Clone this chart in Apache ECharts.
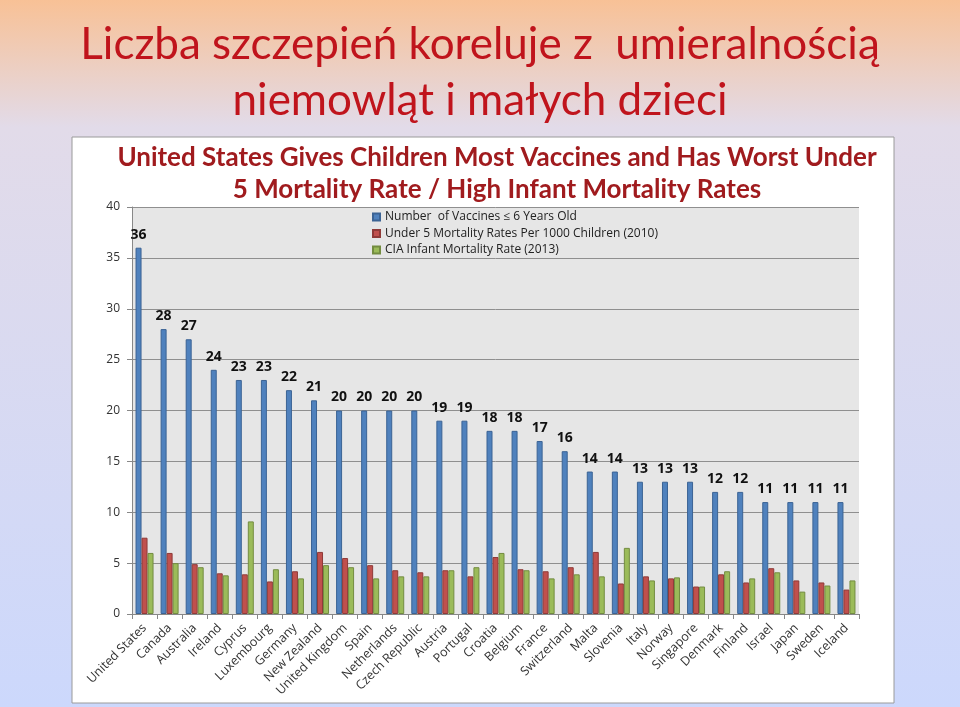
<!DOCTYPE html>
<html>
<head>
<meta charset="utf-8">
<script src="https://cdn.jsdelivr.net/npm/echarts@6/dist/echarts.min.js"></script>
<style>
html,body{margin:0;padding:0;}
#c{width:960px;height:707px;}
</style>
</head>
<body>
<div id="c"></div>
<script>
var categories = ["United States","Canada","Australia","Ireland","Cyprus","Luxembourg","Germany","New Zealand","United Kingdom","Spain","Netherlands","Czech Republic","Austria","Portugal","Croatia","Belgium","France","Switzerland","Malta","Slovenia","Italy","Norway","Singapore","Denmark","Finland","Israel","Japan","Sweden","Iceland"];
var vaccines = [36,28,27,24,23,23,22,21,20,20,20,20,19,19,18,18,17,16,14,14,13,13,13,12,12,11,11,11,11];
var under5 = [7.5,6.0,4.9,4.0,3.9,3.2,4.2,6.1,5.5,4.8,4.3,4.1,4.3,3.7,5.6,4.4,4.2,4.6,6.1,3.0,3.7,3.5,2.7,3.9,3.1,4.5,3.3,3.1,2.4];
var infant = [6.0,5.0,4.6,3.8,9.1,4.4,3.5,4.8,4.6,3.5,3.7,3.7,4.3,4.6,6.0,4.3,3.5,3.9,3.7,6.5,3.3,3.6,2.7,4.2,3.5,4.1,2.2,2.8,3.3];
var seriesNames = ["Number  of Vaccines \u2264 6 Years Old","Under 5 Mortality Rates Per 1000 Children (2010)","CIA Infant Mortality Rate (2013)"];
var yTicks = [0,5,10,15,20,25,30,35,40];
var pageTitle = ["Liczba szczepie\u0144 koreluje z  umieralno\u015bci\u0105","niemowl\u0105t i ma\u0142ych dzieci"];
var chartTitle = ["United States Gives Children Most Vaccines and Has Worst Under","5 Mortality Rate / High Infant Mortality Rates"];

var chart = echarts.init(document.getElementById('c'));
var fills = ['#4f81bd','#c0504d','#9bbb59'];
var borders = ['#3b6394','#8f3a38','#738c40'];
function mk(i, data) {
  var s = {
    name: seriesNames[i], type: 'bar', data: data,
    barWidth: 6, barGap: '0%',
    itemStyle: {color: fills[i], borderColor: borders[i], borderWidth: 1},
    emphasis: {disabled: true}
  };
  if (i === 0) {
    s.label = {show: true, position: 'top', distance: 6, fontFamily: 'Open Sans', fontWeight: 'bold', fontSize: 14, color: '#111'};
  }
  return s;
}
chart.setOption({
  animation: false,
  backgroundColor: {type: 'linear', x: 0, y: 0, x2: 0, y2: 1, colorStops: [
    {offset: 0, color: '#f8c196'}, {offset: 0.18, color: '#e2dbe9'}, {offset: 1, color: '#ccd8fc'}]},
  graphic: [{type: 'rect', shape: {x: 72, y: 137, width: 822, height: 566}, style: {fill: '#ffffff', stroke: '#9a9a9a', lineWidth: 1}, z: -10}],
  title: [
    {text: pageTitle[0], left: 'center', top: 14, textStyle: {fontFamily: 'Lato', fontWeight: 'normal', fontSize: 44, lineHeight: 52, color: '#c0141c'}},
    {text: pageTitle[1], left: 'center', top: 70, textStyle: {fontFamily: 'Lato', fontWeight: 'normal', fontSize: 44, lineHeight: 52, color: '#c0141c'}},
    {text: chartTitle[0], left: 492, textAlign: 'center', top: 138, textStyle: {fontFamily: 'Lato', fontWeight: 'bold', fontSize: 26, lineHeight: 30, color: '#a01b1e'}},
    {text: chartTitle[1], left: 492, textAlign: 'center', top: 170, textStyle: {fontFamily: 'Lato', fontWeight: 'bold', fontSize: 26, lineHeight: 30, color: '#a01b1e'}}
  ],
  legend: {
    orient: 'vertical', left: 367, top: 206, itemWidth: 7, itemHeight: 7, itemGap: 4.5,
    icon: 'rect', textStyle: {fontFamily: 'Open Sans', fontSize: 12, color: '#222'},
    data: seriesNames
  },
  grid: {left: 132, right: 101, top: 207, bottom: 93, show: true, backgroundColor: '#e6e6e6', borderWidth: 0},
  xAxis: {
    type: 'category', data: categories,
    axisLine: {lineStyle: {color: '#888'}},
    axisTick: {show: true, interval: 0, alignWithLabel: false, lineStyle: {color: '#888'}},
    axisLabel: {interval: 0, rotate: 45, fontFamily: 'Open Sans', fontSize: 12.5, color: '#333', margin: 12}
  },
  yAxis: {
    type: 'value', min: 0, max: 40, interval: 5,
    axisLine: {show: true, lineStyle: {color: '#888'}},
    axisTick: {show: true, lineStyle: {color: '#888'}},
    axisLabel: {fontFamily: 'Open Sans', fontSize: 12, color: '#333', margin: 12},
    splitLine: {lineStyle: {color: '#8f8f8f'}}
  },
  series: [mk(0, vaccines), mk(1, under5), mk(2, infant)]
});
</script>
</body>
</html>
